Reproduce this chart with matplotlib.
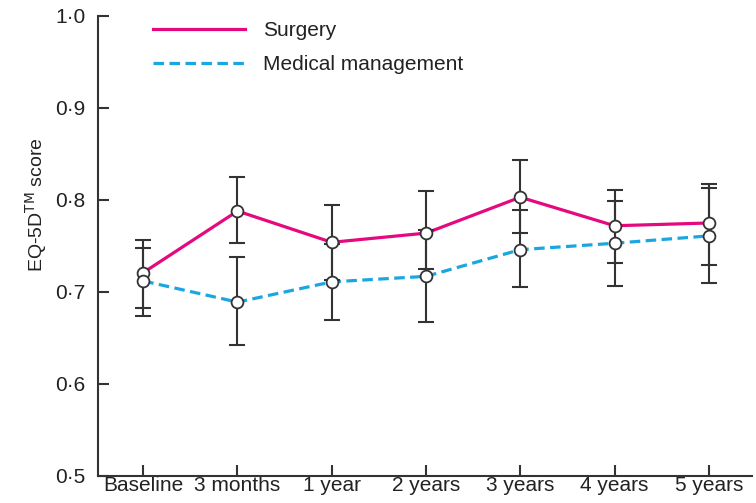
import matplotlib
matplotlib.use("Agg")
import matplotlib.pyplot as plt
from matplotlib.lines import Line2D
import numpy as np

categories = ["Baseline", "3 months", "1 year", "2 years", "3 years", "4 years", "5 years"]
surgery = [0.721, 0.788, 0.754, 0.764, 0.803, 0.772, 0.775]
surgery_low = [0.683, 0.753, 0.713, 0.725, 0.764, 0.731, 0.729]
surgery_high = [0.757, 0.825, 0.795, 0.810, 0.843, 0.811, 0.817]
medical = [0.712, 0.689, 0.711, 0.717, 0.746, 0.753, 0.761]
medical_low = [0.674, 0.642, 0.670, 0.667, 0.705, 0.707, 0.710]
medical_high = [0.748, 0.738, 0.752, 0.767, 0.789, 0.799, 0.813]
yticks = [0.5, 0.6, 0.7, 0.8, 0.9, 1.0]
ytick_labels = ["0·5", "0·6", "0·7", "0·8", "0·9", "1·0"]

FONT = ["Liberation Sans", "DejaVu Sans"]
plt.rcParams["font.family"] = FONT

pink = "#E5097F"
blue = "#1AA7E1"
dark = "#333333"
txt = "#222222"
DASH = (0, (3.3, 1.7))

fig = plt.figure(figsize=(7.56, 5.03), dpi=100)
ax = fig.add_axes([0.1296, 0.0537, 0.8654, 0.9145])

x = np.arange(len(categories))

ax.plot(x, surgery, color=pink, lw=2.3, zorder=2)
ax.plot(x, medical, color=blue, lw=2.3, ls=DASH, zorder=2)

for vals, lo, hi in [(surgery, surgery_low, surgery_high), (medical, medical_low, medical_high)]:
    v = np.array(vals)
    yerr = np.vstack([v - np.array(lo), np.array(hi) - v])
    ax.errorbar(x, v, yerr=yerr, fmt="none", ecolor=dark, elinewidth=1.5,
                capsize=6, capthick=1.5, zorder=3)

ax.plot(x, surgery, ls="none", marker="o", ms=8.5, mfc="white", mec=dark, mew=1.3, zorder=4)
ax.plot(x, medical, ls="none", marker="o", ms=8.5, mfc="white", mec=dark, mew=1.3, zorder=4)

ax.set_xlim(-0.48, 6.46)
ax.set_ylim(0.5, 1.0)
ax.set_yticks(yticks)
ax.set_yticklabels(ytick_labels)
ax.set_xticks(x)
ax.set_xticklabels(categories)

for s in ["top", "right"]:
    ax.spines[s].set_visible(False)
for s in ["left", "bottom"]:
    ax.spines[s].set_color(dark)
    ax.spines[s].set_linewidth(1.5)

ax.tick_params(axis="both", direction="in", length=8, width=1.5, color=dark,
               labelsize=15, labelcolor=txt)
ax.tick_params(axis="x", pad=0)
ax.tick_params(axis="y", pad=9)

ax.set_ylabel("EQ-5D$^{\\mathrm{TM}}$ score", fontsize=14, color=txt)
ax.yaxis.set_label_coords(-0.075, 0.59)

handles = [Line2D([], [], color=pink, lw=2.3),
           Line2D([], [], color=blue, lw=2.3, ls=DASH)]
leg = ax.legend(handles, ["Surgery", "Medical management"], loc="upper left",
                bbox_to_anchor=(0.0555, 1.03), frameon=False, fontsize=15,
                handlelength=4.4, handletextpad=0.87, labelspacing=0.72)
for t in leg.get_texts():
    t.set_color(txt)

fig.savefig("out.png", dpi=100)
